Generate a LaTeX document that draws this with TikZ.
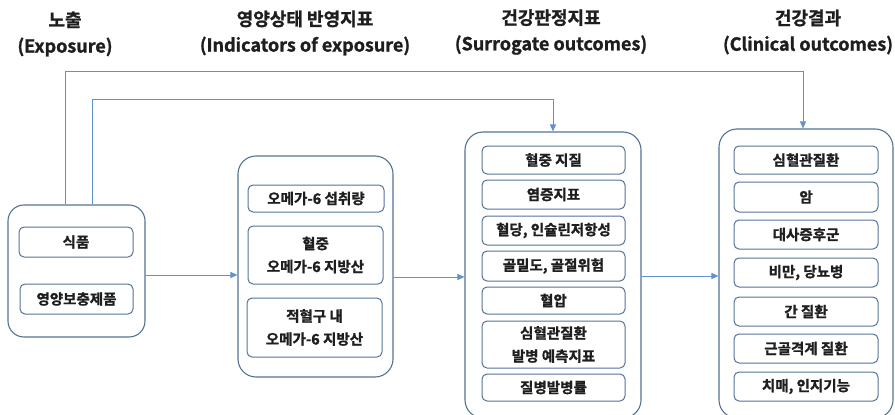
\documentclass[tikz,border=0pt]{standalone}
\usepackage{fontspec}
\setmainfont{Noto Sans CJK KR}[BoldFont={Noto Sans CJK KR Bold},BoldFeatures={FakeBold=1.2}]
\usetikzlibrary{arrows.meta}
\definecolor{linkblue}{RGB}{98,146,204}
\definecolor{boxblue}{RGB}{84,114,152}
\definecolor{inkgray}{RGB}{30,30,30}
\begin{document}
\begin{tikzpicture}[x=1pt,y=-1pt,
    group/.style={draw=boxblue,line width=1.1pt,rounded corners=18pt,inner sep=0pt},
    item/.style={draw=boxblue,line width=1pt,rounded corners=5pt,inner sep=0pt,
      align=center,text=inkgray,font=\fontsize{14.5}{23}\selectfont\bfseries},
    head/.style={align=center,text=inkgray,font=\fontsize{18}{26}\selectfont\bfseries},
    link/.style={draw=linkblue,line width=1pt,-{Triangle[length=7pt,width=6pt]}}]
  \useasboundingbox (0,0) rectangle (895,415);
  % column titles
  \node[head] (h1) at (65,34) {노출\\(Exposure)};
  \node[head] (h2) at (305,33) {영양상태 반영지표\\(Indicators of exposure)};
  \node[head] (h3) at (551,32) {건강판정지표\\(Surrogate outcomes)};
  \node[head] (h4) at (808,32) {건강결과\\(Clinical outcomes)};
  % groups
  \node[group,rounded corners=16pt,minimum width=137pt,minimum height=132pt] (expo) at (76.5,271) {};
  \node[group,minimum width=155pt,minimum height=221pt] (indic) at (315.5,266.5) {};
  \node[group,minimum width=176pt,minimum height=286pt] (surr) at (553,275) {};
  \node[group,minimum width=174pt,minimum height=289pt] (clin) at (806,273.5) {};
  % exposure
  \node[item,minimum width=114pt,minimum height=30pt] (food) at (76,242) {식품};
  \node[item,minimum width=113pt,minimum height=30pt] (supp) at (76.5,299) {영양보충제품};
  % indicators of exposure
  \node[item,minimum width=136pt,minimum height=27pt] (intake) at (316,198.5) {오메가-6 섭취량};
  \node[item,minimum width=135pt,minimum height=58pt] (plasma) at (315.5,255) {혈중\\오메가-6 지방산};
  \node[item,minimum width=135pt,minimum height=59pt] (rbc) at (314.5,327.5) {적혈구 내\\오메가-6 지방산};
  % surrogate outcomes
  \node[item,minimum width=143pt,minimum height=28pt] (lipid) at (553.5,160) {혈중 지질};
  \node[item,minimum width=143pt,minimum height=29pt] (inflam) at (553.5,194.5) {염증지표};
  \node[item,minimum width=143pt,minimum height=29pt] (gluc) at (553.5,230.5) {혈당, 인슐린저항성};
  \node[item,minimum width=143pt,minimum height=30pt] (bone) at (553.5,266) {골밀도, 골절위험};
  \node[item,minimum width=143pt,minimum height=27pt] (bp) at (553.5,300.5) {혈압};
  \node[item,minimum width=143pt,minimum height=47pt] (cvdpred) at (553.5,344.5) {심혈관질환\\발병 예측지표};
  \node[item,minimum width=143pt,minimum height=27pt] (incid) at (553.5,387.5) {질병발병률};
  % clinical outcomes
  \node[item,minimum width=144pt,minimum height=28pt] (cvd) at (806,160) {심혈관질환};
  \node[item,minimum width=144pt,minimum height=30pt] (cancer) at (806,197) {암};
  \node[item,minimum width=144pt,minimum height=29pt] (mets) at (806,234.5) {대사증후군};
  \node[item,minimum width=144pt,minimum height=29pt] (obes) at (806,272.5) {비만, 당뇨병};
  \node[item,minimum width=144pt,minimum height=29pt] (liver) at (806,311.5) {간 질환};
  \node[item,minimum width=144pt,minimum height=29pt] (msk) at (806,348.5) {근골격계 질환};
  \node[item,minimum width=144pt,minimum height=29pt] (dem) at (806,386.5) {치매, 인지기능};
  \coordinate (up1) at (65,71);
  \coordinate (up2) at (92,99);
  \begin{scope}[link]
    \draw (expo.east |- 0,275) -- (indic.west |- 0,275);
    \draw (indic.east |- 0,277) -- (surr.west |- 0,277);
    \draw (surr.east |- 0,276) -- (clin.west |- 0,276);
    \draw (expo.north -| up1) -- (up1) -| ([xshift=-3pt]clin.north);
    \draw (expo.north -| up2) -- (up2) -| (surr.north);
  \end{scope}
\end{tikzpicture}
\end{document}
